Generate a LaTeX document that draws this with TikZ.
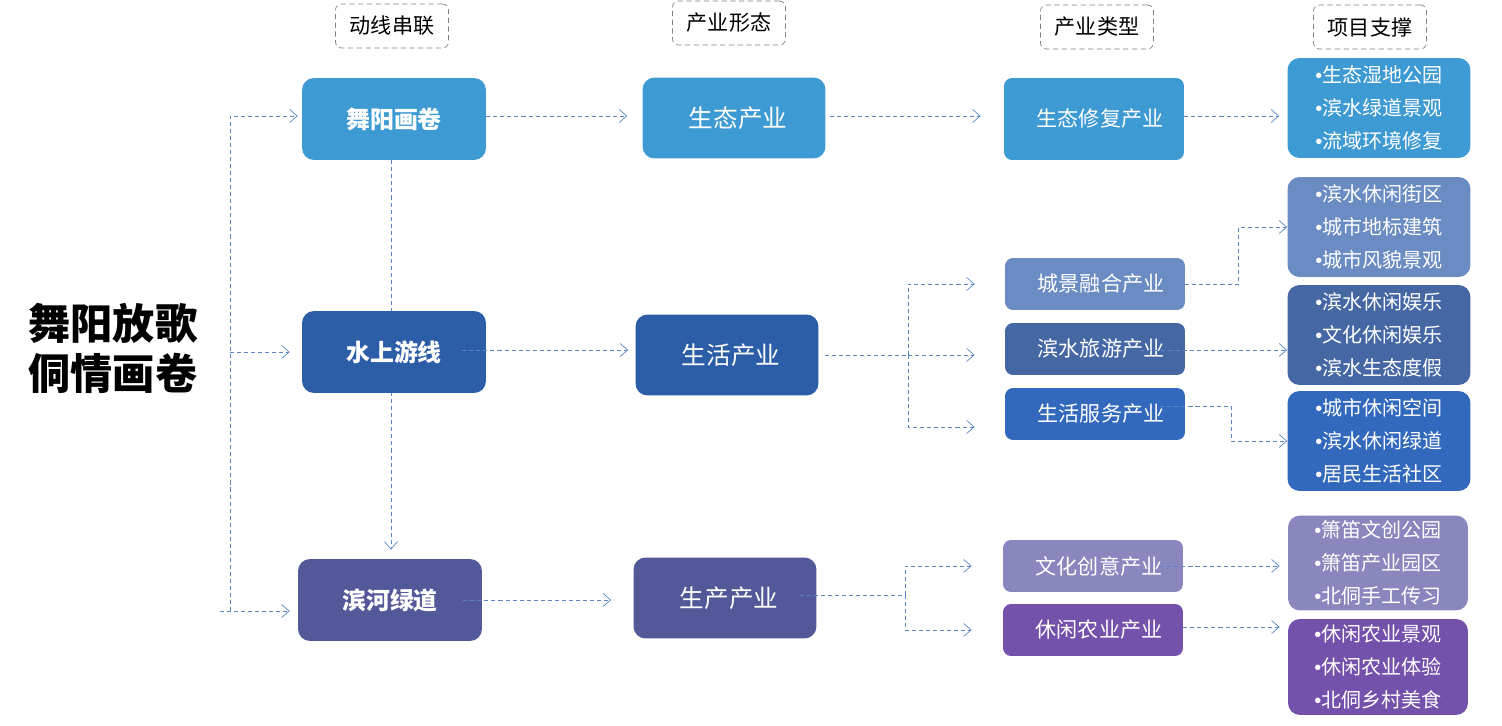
\documentclass[tikz,border=0pt]{standalone}
\usepackage{fontspec}
\setmainfont{Noto Sans CJK SC}
\newfontfamily\bulfont{Liberation Sans}
\newcommand\itm{{\bulfont •}}
\usetikzlibrary{arrows.meta,backgrounds}
\definecolor{skyblue}{HTML}{3E9AD3}
\definecolor{deepblue}{HTML}{2C5EA8}
\definecolor{dusk}{HTML}{535898}
\definecolor{cityblue}{HTML}{6A8CC2}
\definecolor{slateblue}{HTML}{4568A5}
\definecolor{lifeblue}{HTML}{3369BD}
\definecolor{lilac}{HTML}{8A86BE}
\definecolor{violet}{HTML}{7451AB}
\definecolor{linkblue}{HTML}{5A86C5}
\begin{document}
\begin{tikzpicture}[x=0.02cm, y=-0.02cm,
    box/.style={rounded corners=0.24cm, text=white, inner sep=0pt},
    route/.style={box, minimum width=3.68cm, minimum height=1.64cm, font=\bfseries\fontsize{13.6}{16}\selectfont},
    form/.style={box, minimum width=3.66cm, minimum height=1.62cm, font=\fontsize{14}{16}\selectfont, execute at begin node=\hspace*{0.16cm}},
    kind/.style={box, rounded corners=0.16cm, minimum width=3.6cm, minimum height=1.04cm, font=\fontsize{12}{14}\selectfont, execute at begin node=\hspace*{0.24cm}},
    proj/.style={box, minimum width=3.66cm, minimum height=2cm, align=center, font=\fontsize{11.4}{18.8}\selectfont},
    head/.style={draw=gray, densely dashed, rounded corners=0.12cm, minimum width=2.26cm, minimum height=0.88cm, inner sep=0pt, font=\fontsize{12}{14}\selectfont},
    link/.style={draw=linkblue, dash pattern=on 2.3pt off 1.7pt, thin, -{Straight Barb[length=1.5mm, width=2.6mm]}},
    wire/.style={link, -}]
  \useasboundingbox (0,0) rectangle (1502,726);

  % column heads
  \node[head] (h1) at (392,26) {动线串联};
  \node[head] (h2) at (729,23) {产业形态};
  \node[head] (h3) at (1097,27) {产业类型};
  \node[head] (h4) at (1370,27) {项目支撑};

  \node[align=center, font=\bfseries\fontsize{24}{28.5}\selectfont] (title) at (113,348) {舞阳放歌\\侗情画卷};

  % routes
  \node[route, fill=skyblue] (wy) at (394,119) {舞阳画卷};
  \node[route, fill=deepblue] (sx) at (394,352) {水上游线};
  \node[route, fill=dusk] (bh) at (390,600) {滨河绿道};

  % industry forms
  \node[form, fill=skyblue] (st) at (734,118) {生态产业};
  \node[form, fill=deepblue] (sh) at (727,355) {生活产业};
  \node[form, fill=dusk] (sc) at (725,598) {生产产业};

  % industry kinds
  \node[kind, fill=skyblue, minimum height=1.64cm] (xf) at (1094,119) {生态修复产业};
  \node[kind, fill=cityblue] (cj) at (1095,284) {城景融合产业};
  \node[kind, fill=slateblue] (bs) at (1095,349) {滨水旅游产业};
  \node[kind, fill=lifeblue] (fw) at (1095,414) {生活服务产业};
  \node[kind, fill=lilac] (wh) at (1093,566) {文化创意产业};
  \node[kind, fill=violet] (xn) at (1093,630) {休闲农业产业};

  % projects
  \node[proj, fill=skyblue] (p1) at (1379,108) {\itm{}生态湿地公园\\\itm{}滨水绿道景观\\\itm{}流域环境修复};
  \node[proj, fill=cityblue] (p2) at (1379,227) {\itm{}滨水休闲街区\\\itm{}城市地标建筑\\\itm{}城市风貌景观};
  \node[proj, fill=slateblue] (p3) at (1379,335) {\itm{}滨水休闲娱乐\\\itm{}文化休闲娱乐\\\itm{}滨水生态度假};
  \node[proj, fill=lifeblue] (p4) at (1379,441) {\itm{}城市休闲空间\\\itm{}滨水休闲绿道\\\itm{}居民生活社区};
  \node[proj, fill=lilac, minimum width=3.6cm, minimum height=1.9cm] (p5) at (1378,563) {\itm{}箫笛文创公园\\\itm{}箫笛产业园区\\\itm{}北侗手工传习};
  \node[proj, fill=violet, minimum width=3.6cm, minimum height=1.92cm] (p6) at (1378,667) {\itm{}休闲农业景观\\\itm{}休闲农业体验\\\itm{}北侗乡村美食};

  % left bus
  \coordinate (lt) at (230,116);
  \coordinate (lb) at (230,611);
  \coordinate (lin) at (220,611);
  \draw[link, shorten >=0.08cm] (lb) -- (lt) -- (lt -| wy.west);
  \draw[link, shorten >=0.24cm] (lt |- sx) -- (sx.west);
  \draw[link, shorten >=0.16cm] (lin) -- (lin -| bh.west);
  \begin{scope}[on background layer]
    \draw[link, shorten >=0.18cm] ([xshift=-0.06cm]wy.south) -- ([xshift=-0.06cm]wy.south |- bh.north);
  \end{scope}

  % routes to forms
  \draw[link, shorten >=0.3cm] (wy.east |- lt) -- (lt -| st.west);
  \draw[link, shorten >=0.28cm] ([xshift=-0.48cm]sx.east |- 0,350) -- (st.west |- 0,350);
  \draw[link, shorten >=0.44cm] ([xshift=-0.38cm]bh.east) -- (sc.west |- bh.east);

  % forms to kinds
  \draw[link, shorten >=0.46cm] ([xshift=0.08cm]st.east |- lt) -- (xf.west |- lt);
  \coordinate (shb) at (908,355);
  \draw[wire] ([xshift=0.12cm]sh.east) -- (shb);
  \draw[link, shorten >=0.6cm] (shb) |- (cj.west);
  \draw[link, shorten >=0.6cm] (shb) -- (bs.west |- shb);
  \draw[link, shorten >=0.6cm] (shb) |- (fw.west |- 0,427);
  \coordinate (scb) at (905,595);
  \draw[wire] ([xshift=-0.34cm]sc.east |- scb) -- (scb);
  \draw[link, shorten >=0.62cm] (scb) |- (wh.west);
  \draw[link, shorten >=0.62cm] (scb) |- (xn.west);

  % kinds to projects
  \draw[link, shorten >=0.16cm] (xf.east |- lt) -- (p1.west |- lt);
  \draw[link] (cj.east) -- ++(53,0) |- (p2.west);
  \draw[link] ([xshift=-0.9cm]bs.east |- 0,350) -- (p3.west |- 0,350);
  \draw[link] ([xshift=-0.5cm]fw.east |- 0,406) -- (1231,406) |- (p4.west);
  \draw[link, shorten >=0.16cm] ([xshift=-0.46cm]wh.east) -- (p5.west |- wh.east);
  \draw[link, shorten >=0.16cm] (xn.east |- 0,627) -- (p6.west |- 0,627);
\end{tikzpicture}
\end{document}
